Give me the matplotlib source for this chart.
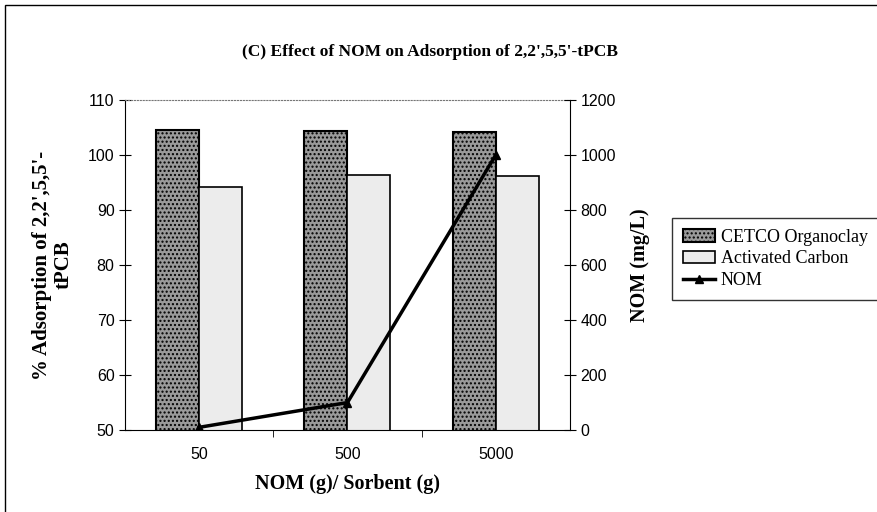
import matplotlib.pyplot as plt
import numpy as np
from matplotlib.patches import Rectangle

cats = ['50', '500', '5000']
cetco = [104.5, 104.4, 104.2]
carbon = [94.2, 96.4, 96.2]
nom = [10, 100, 1000]

serif = 'Liberation Serif'
sans = 'Liberation Sans'

fig = plt.figure(figsize=(8.77, 5.12), dpi=100)
ax = fig.add_axes([0.1425, 0.160, 0.5074, 0.645])
x = np.arange(len(cats))
w = 0.29

b1 = ax.bar(x - w / 2, cetco, w, color='#9a9a9a', edgecolor='black',
            lw=1.5, hatch='....', label='CETCO Organoclay')
b2 = ax.bar(x + w / 2, carbon, w, color='#ececec', edgecolor='black',
            lw=1.2, label='Activated Carbon')
ax.set_ylim(50, 110)
ax.set_xlim(-0.5, 2.5)
ax.set_yticks(range(50, 111, 10))
ax.set_xticks(x)
ax.set_xticklabels(cats, fontfamily=sans, fontsize=11.5)
ax.set_xticks([0.5, 1.5], minor=True)
ax.tick_params(axis='x', which='major', length=0, pad=12)
ax.tick_params(axis='x', which='minor', length=5, direction='out')
ax.tick_params(axis='y', direction='inout', length=8, labelsize=11.5)
for t in ax.get_yticklabels():
    t.set_fontfamily(sans)
ax.spines['top'].set_linestyle(':')
ax.spines['top'].set_color('#777777')
ax.spines['right'].set_visible(False)
ax.set_ylabel("% Adsorption of 2,2',5,5'-\ntPCB", fontfamily=serif,
              fontweight='bold', fontsize=15, labelpad=10, linespacing=1.15)
ax.set_xlabel('NOM (g)/ Sorbent (g)', fontfamily=serif, fontweight='bold',
              fontsize=14.5, labelpad=9)

ax2 = ax.twinx()
ln, = ax2.plot(x, nom, color='black', lw=2.5, marker='^', ms=6, label='NOM')
ax2.set_ylim(0, 1200)
ax2.set_yticks(range(0, 1201, 200))
ax2.tick_params(axis='y', direction='inout', length=8, labelsize=11.5)
for t in ax2.get_yticklabels():
    t.set_fontfamily(sans)
for s in ['top', 'left', 'bottom']:
    ax2.spines[s].set_visible(False)
ax2.set_ylabel('NOM (mg/L)', fontfamily=serif, fontweight='bold', fontsize=14.5,
               labelpad=10)

fig.suptitle("(C) Effect of NOM on Adsorption of 2,2',5,5'-tPCB", x=0.49,
             y=0.915, fontfamily=serif, fontweight='bold', fontsize=12.5)

leg = fig.legend(handles=[b1, b2, ln], loc='upper left',
                 bbox_to_anchor=(672 / 877, 1 - 218 / 512), frameon=True,
                 fancybox=False, edgecolor='black', borderaxespad=0,
                 handlelength=1.8, handletextpad=0.3, labelspacing=0.25,
                 borderpad=0.6, prop={'family': serif, 'size': 13})
leg.get_frame().set_linewidth(1)

fig.patches.append(Rectangle((0.006, -0.02), 1.1, 1.01, transform=fig.transFigure,
                             fill=False, edgecolor='black', lw=1))

fig.savefig('out.png', dpi=100)
